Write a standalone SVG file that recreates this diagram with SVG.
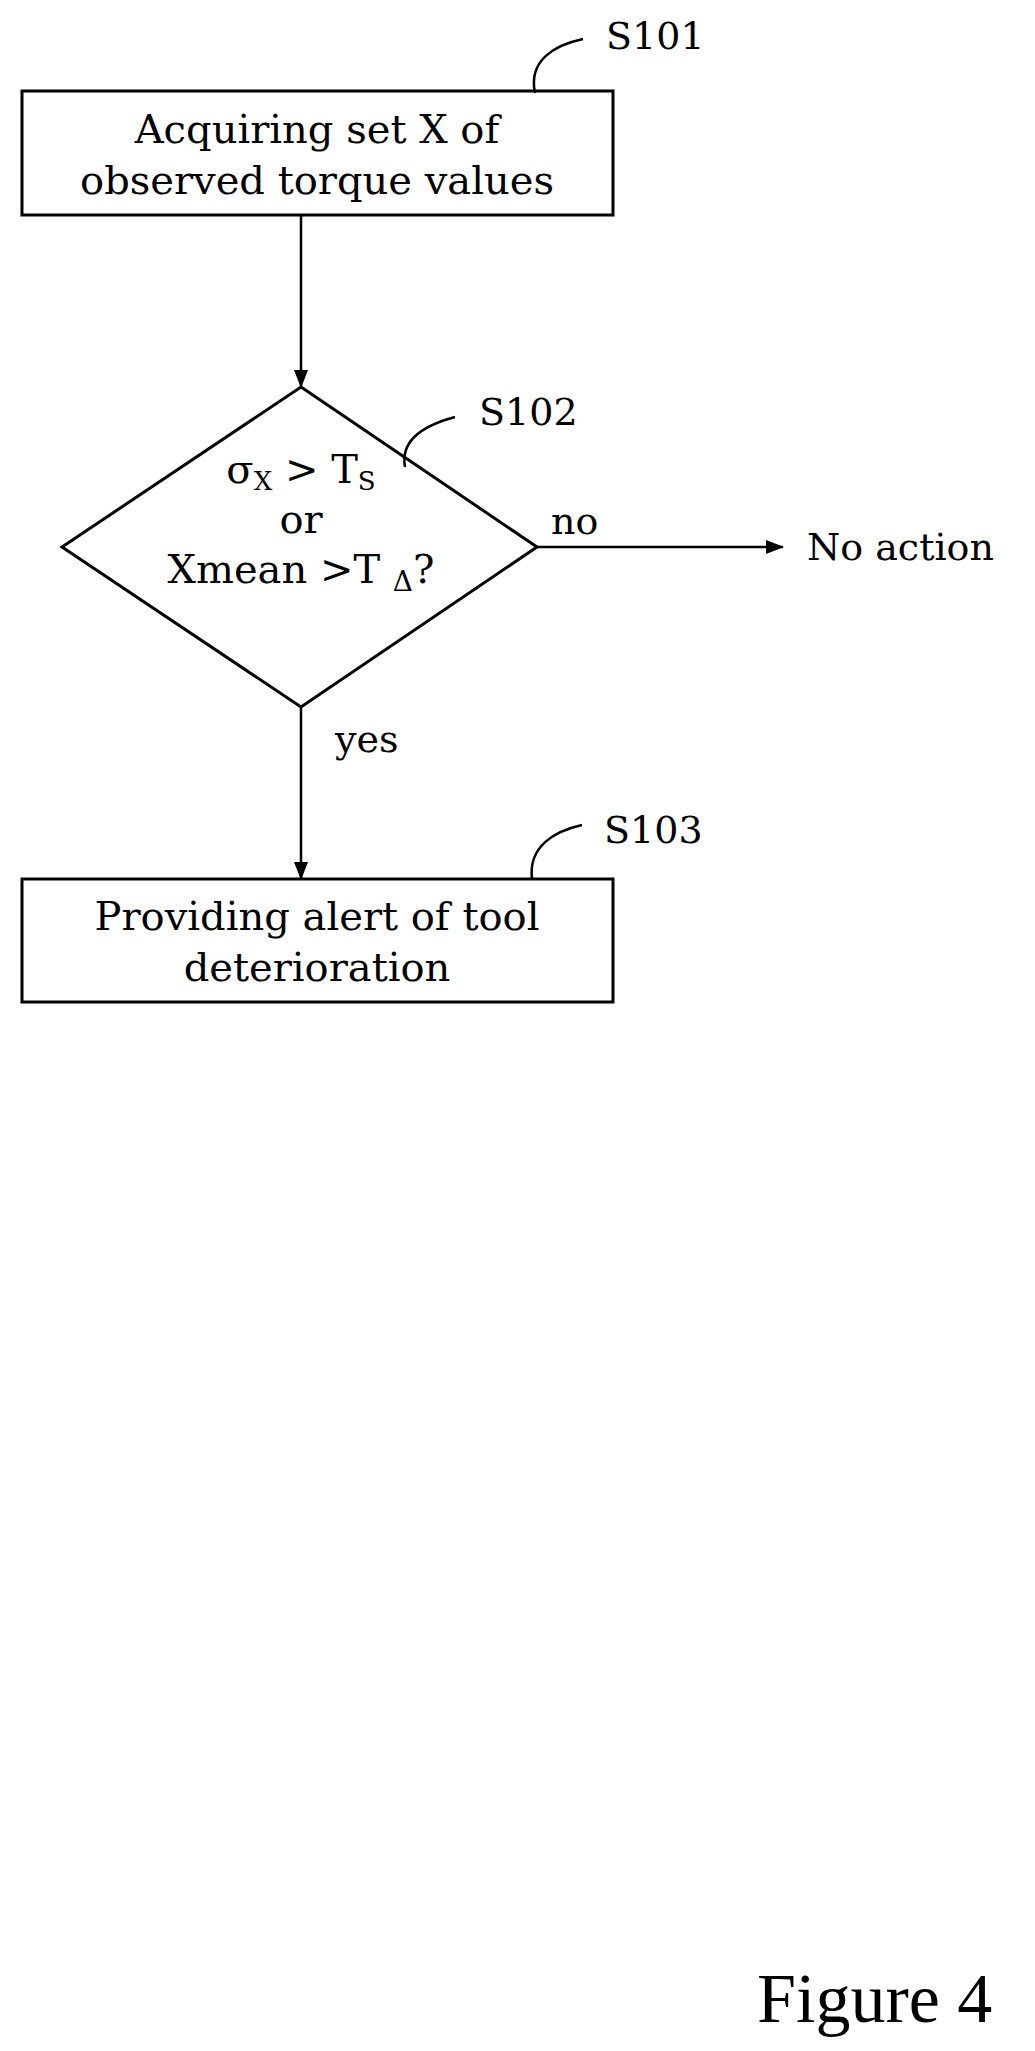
<svg xmlns="http://www.w3.org/2000/svg" width="1035" height="2051" viewBox="0 0 1035 2051">
<style>
text{font-family:"DejaVu Serif","Liberation Serif",serif;fill:#000}
.t{font-size:40px;text-anchor:middle}
.l{font-size:38px}
.s{fill:none;stroke:#000;stroke-width:3}
.c{fill:none;stroke:#000;stroke-width:2.5}
</style>
<defs><marker id="a" markerWidth="18" markerHeight="14" refX="17" refY="7" orient="auto" markerUnits="userSpaceOnUse"><path d="M0,0 L18,7 L0,14 z"/></marker></defs>
<rect width="1035" height="2051" fill="#fff"/>
<g id="s101">
<rect class="s" x="22" y="91" width="591" height="124"/>
<text class="t" x="317" y="143">Acquiring set X of</text>
<text class="t" x="317" y="194">observed torque values</text>
<path class="c" d="M583,39 C555,45 528,60 535,93"/>
<text class="l" x="606" y="49">S101</text>
</g>
<g id="s102">
<polygon class="s" points="301,387 537,547 301,707 62,547"/>
<text class="t" x="301" y="483">σ<tspan font-size="26" dy="7">X</tspan><tspan dy="-7"> &gt; T</tspan><tspan font-size="26" dy="7">S</tspan></text>
<text class="t" x="301" y="533">or</text>
<text class="t" x="301" y="583">Xmean &gt;T <tspan font-size="28" dy="8">Δ</tspan><tspan dy="-8">?</tspan></text>
<path class="c" d="M455,417 C425,425 400,440 405,467"/>
<text class="l" x="479" y="425">S102</text>
</g>
<g id="s103">
<rect class="s" x="22" y="879" width="591" height="123"/>
<text class="t" x="317" y="930">Providing alert of tool</text>
<text class="t" x="317" y="981">deterioration</text>
<path class="c" d="M582,825 C555,831 528,846 532,879"/>
<text class="l" x="604" y="843">S103</text>
</g>
<g id="noaction"><text class="l" x="807" y="560">No action</text></g>
<g id="connectors">
<line class="c" x1="301" y1="215" x2="301" y2="387" marker-end="url(#a)"/>
<line class="c" x1="537" y1="547" x2="783" y2="547" marker-end="url(#a)"/>
<line class="c" x1="301" y1="707" x2="301" y2="879" marker-end="url(#a)"/>
<text class="l" x="551" y="534">no</text>
<text class="l" x="335" y="752">yes</text>
</g>
<text x="757" y="2022" font-size="70" style="font-family:'Liberation Serif',serif">Figure 4</text>
</svg>
